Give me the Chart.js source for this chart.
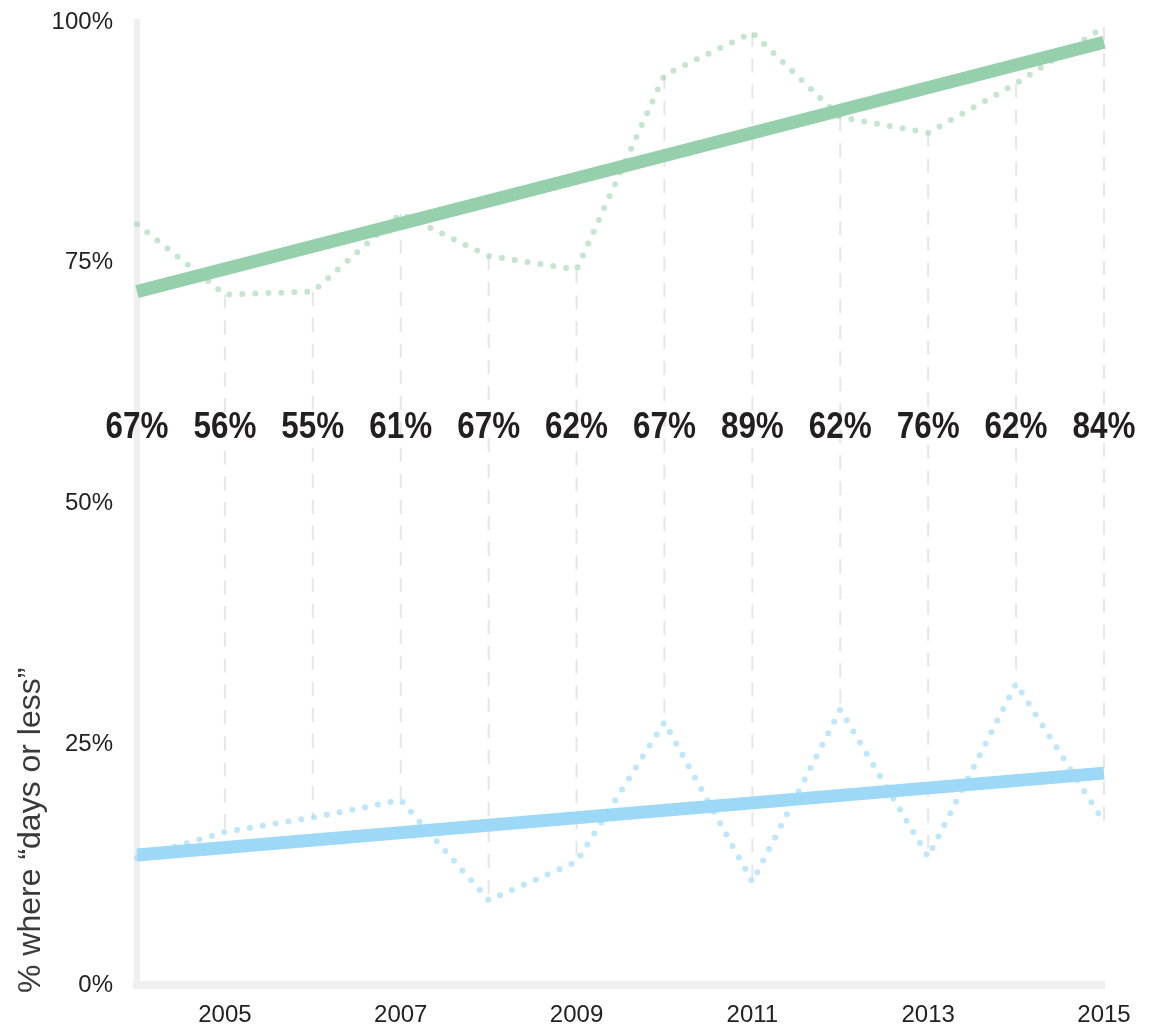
<!DOCTYPE html>
<html>
<head>
<meta charset="utf-8">
<script src="https://cdn.jsdelivr.net/npm/chart.js@4.4.0/dist/chart.umd.min.js"></script>
<style>
  html, body { margin: 0; padding: 0; background: #fff; }
  #wrap { width: 1155px; height: 1029px; position: relative; }
</style>
</head>
<body>
<div id="wrap"><canvas id="chart"></canvas></div>
<script>
/* Data */
const years = ['2004', '2005', '2006', '2007', '2008', '2009', '2010', '2011', '2012', '2013', '2014', '2015'];
const greenDots = [79.0, 71.7, 72.0, 80.1, 75.7, 74.3, 94.5, 98.9, 90.1, 88.5, 93.6, 99.5];
const blueDots = [13.2, 15.9, 17.4, 19.2, 8.8, 12.8, 27.3, 10.7, 28.6, 13.3, 31.3, 16.9];
const greenTrend = [72.0, null, null, null, null, null, null, null, null, null, null, 97.9];
const blueTrend = [13.5, null, null, null, null, null, null, null, null, null, null, 22.0];
const shareLabels = ['67%', '56%', '55%', '61%', '67%', '62%', '67%', '89%', '62%', '76%', '62%', '84%'];
const yTicks = [0, 25, 50, 75, 100];
const shareLabelLevel = 57.9; // value on the y scale where the row of shares sits

/* Colors */
const GREEN = '#96cfab';
const GREEN_DOT = 'rgba(150,207,171,0.55)';
const BLUE = '#9dd8f6';
const BLUE_DOT = 'rgba(157,216,246,0.65)';
const AXIS = '#efefef';
const FONT = '"Liberation Sans", Arial, Helvetica, sans-serif';

/* Plugins: connectors between the two dotted series, share labels */
const connectors = {
  id: 'connectors',
  beforeDatasetsDraw(chart) {
    const { ctx, scales: { x, y } } = chart;
    ctx.save();
    ctx.strokeStyle = '#e6e6e6';
    ctx.lineWidth = 2;
    ctx.setLineDash([14, 12]);
    years.forEach((yr, i) => {
      if (i === 0) return; // hidden by the axis
      const px = x.getPixelForValue(i);
      ctx.beginPath();
      ctx.moveTo(px, y.getPixelForValue(greenDots[i]));
      ctx.lineTo(px, y.getPixelForValue(blueDots[i]));
      ctx.stroke();
    });
    ctx.restore();
  },
  afterDatasetsDraw(chart) {
    const { ctx, scales: { x, y } } = chart;
    const py = y.getPixelForValue(shareLabelLevel);
    ctx.save();
    ctx.font = 'bold 37px ' + FONT;
    ctx.fillStyle = '#231f20';
    ctx.textAlign = 'center';
    ctx.textBaseline = 'middle';
    shareLabels.forEach((t, i) => {
      const px = x.getPixelForValue(i);
      ctx.save();
      ctx.translate(px, py);
      ctx.scale(0.85, 1); // condensed look
      ctx.fillText(t, 0, 0);
      ctx.restore();
    });
    ctx.restore();
  }
};

const yTitle = {
  id: 'yTitle',
  afterDraw(chart) {
    const { ctx, scales: { y } } = chart;
    ctx.save();
    ctx.translate(31, y.getPixelForValue(0) + 8);
    ctx.rotate(-Math.PI / 2);
    ctx.font = '32px ' + FONT;
    ctx.fillStyle = '#3a3a3a';
    ctx.textAlign = 'left';
    ctx.textBaseline = 'middle';
    ctx.fillText('% where \u201cdays or less\u201d', 0, 0);
    ctx.restore();
  }
};

new Chart(document.getElementById('chart'), {
  type: 'line',
  data: {
    labels: years,
    datasets: [
      { data: greenTrend, borderColor: GREEN, borderWidth: 13, spanGaps: true, pointRadius: 0, order: 0, borderCapStyle: 'butt' },
      { data: blueTrend, borderColor: BLUE, borderWidth: 13, spanGaps: true, pointRadius: 0, order: 0, borderCapStyle: 'butt' },
      { data: greenDots, borderColor: GREEN_DOT, borderWidth: 6, borderDash: [0, 13], borderCapStyle: 'round', pointRadius: 0, tension: 0, order: 1 },
      { data: blueDots, borderColor: BLUE_DOT, borderWidth: 6, borderDash: [0, 13], borderCapStyle: 'round', pointRadius: 0, tension: 0, order: 1 }
    ]
  },
  options: {
    responsive: true,
    maintainAspectRatio: false,
    animation: false,
    layout: { padding: { left: 0, right: 51, top: 22, bottom: 0 } },
    plugins: { legend: { display: false }, tooltip: { enabled: false } },
    scales: {
      x: {
        offset: false,
        afterFit: (s) => { s.height = 44; },
        grid: { display: false, drawTicks: false },
        border: { display: true, color: AXIS, width: 8 },
        ticks: {
          autoSkip: false, maxRotation: 0, padding: 16,
          color: '#222', font: { size: 24, family: FONT },
          callback: (v, i) => (Number(years[i]) % 2 === 1 ? years[i] : '')
        }
      },
      y: {
        min: 0, max: 100,
        afterFit: (s) => { s.width = 137; s.paddingTop = 0; s.paddingBottom = 0; },
        afterBuildTicks: (s) => { s.ticks = yTicks.map(v => ({ value: v })); },
        grid: { display: false, drawTicks: false },
        border: { display: true, color: AXIS, width: 6 },
        ticks: {
          padding: 24,
          color: '#222', font: { size: 24, family: FONT },
          callback: (v) => v + '%'
        }
      }
    }
  },
  plugins: [connectors, yTitle]
});
</script>
</body>
</html>
